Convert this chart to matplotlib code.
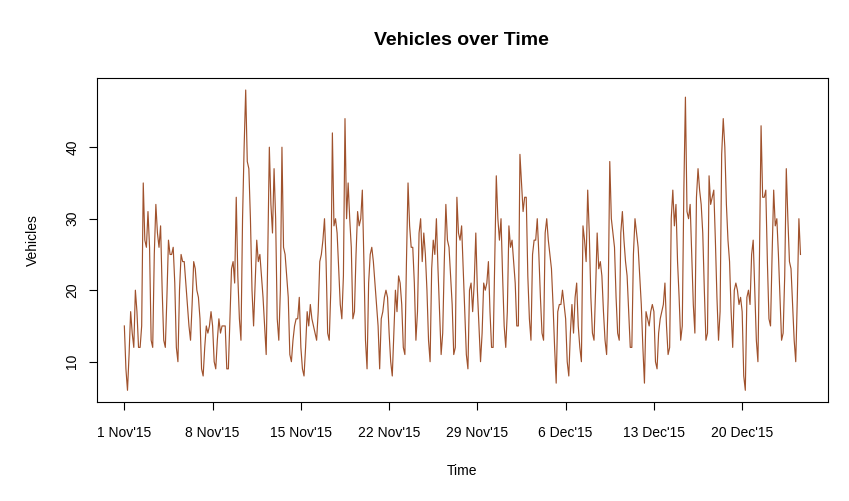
import matplotlib
matplotlib.use('Agg')
import matplotlib.pyplot as plt
import pandas as pd

plt.rcParams['font.family'] = ['Liberation Sans', 'DejaVu Sans']

# vehicle counts, one value every 3 hours, one row per day (00h ... 21h)
week1 = [15, 9, 6, 11, 17, 14, 12, 20,      # 1 Nov
         17, 12, 12, 15, 35, 27, 26, 31,
         26, 13, 12, 25, 32, 28, 26, 29,
         20, 13, 12, 19, 27, 25, 25, 26,
         21, 12, 10, 20, 25, 24, 24, 21,
         18, 15, 13, 18, 24, 23, 20, 19,
         16, 9, 8, 12, 15, 14, 15, 17]
week2 = [15, 10, 9, 13, 16, 14, 15, 15,     # 8 Nov
         15, 9, 9, 16, 23, 24, 21, 33,
         22, 16, 13, 30, 40, 48, 38, 37,
         30, 20, 15, 21, 27, 24, 25, 22,
         19, 15, 11, 25, 40, 32, 28, 37,
         30, 16, 13, 20, 40, 26, 25, 22,
         19, 11, 10, 13, 15, 16, 16, 19]
week3 = [12, 9, 8, 12, 17, 15, 18, 16,      # 15 Nov
         15, 14, 13, 17, 24, 25, 27, 30,
         24, 14, 13, 20, 42, 29, 30, 28,
         23, 18, 16, 22, 44, 30, 35, 30,
         26, 16, 17, 25, 31, 29, 30, 34,
         24, 13, 9, 21, 25, 26, 24, 21,
         18, 15, 9, 16, 17, 19, 20, 19]
week4 = [14, 10, 8, 14, 20, 17, 22, 21,     # 22 Nov
         18, 12, 11, 24, 35, 29, 26, 26,
         21, 13, 17, 28, 30, 24, 28, 25,
         20, 13, 10, 23, 27, 25, 30, 23,
         17, 11, 14, 24, 32, 27, 26, 22,
         18, 11, 12, 33, 28, 27, 29, 23,
         17, 11, 9, 20, 21, 17, 21, 28]
week5 = [20, 15, 10, 14, 21, 20, 21, 24,    # 29 Nov
         17, 12, 12, 24, 36, 30, 27, 30,
         22, 15, 12, 17, 29, 26, 27, 24,
         21, 15, 15, 39, 35, 31, 33, 33,
         22, 16, 13, 25, 27, 27, 30, 25,
         19, 14, 13, 28, 30, 27, 25, 23,
         18, 12, 7, 17, 18, 18, 20, 18]
week6 = [16, 10, 8, 14, 18, 14, 19, 21,     # 6 Dec
         15, 12, 10, 29, 27, 24, 34, 28,
         19, 14, 13, 20, 28, 23, 24, 22,
         17, 13, 11, 19, 38, 30, 28, 26,
         19, 14, 13, 28, 31, 27, 24, 22,
         17, 12, 12, 25, 30, 28, 26, 22,
         18, 12, 7, 17, 16, 15, 17, 18]
week7 = [17, 10, 9, 14, 16, 17, 18, 21,     # 13 Dec
         15, 11, 12, 30, 34, 29, 32, 24,
         19, 13, 15, 34, 47, 31, 30, 32,
         25, 18, 14, 33, 37, 34, 32, 28,
         20, 13, 14, 36, 32, 33, 34, 27,
         19, 13, 17, 39, 44, 40, 32, 27,
         24, 17, 12, 20, 21, 20, 18, 19]
week8 = [17, 8, 6, 19, 20, 18, 25, 27,      # 20 Dec
         20, 13, 10, 25, 43, 33, 33, 34,
         24, 16, 15, 25, 34, 29, 30, 25,
         19, 13, 14, 22, 37, 30, 24, 23,
         18, 13, 10, 19, 30, 25]

tick_dates = ['2015-11-01', '2015-11-08', '2015-11-15', '2015-11-22',
              '2015-11-29', '2015-12-06', '2015-12-13', '2015-12-20']
tick_labels = ["1 Nov'15", "8 Nov'15", "15 Nov'15", "22 Nov'15",
               "29 Nov'15", "6 Dec'15", "13 Dec'15", "20 Dec'15"]
y_ticks = [10, 20, 30, 40]

vehicles = week1 + week2 + week3 + week4 + week5 + week6 + week7 + week8
times = pd.date_range('2015-11-01 00:00', periods=len(vehicles), freq='3h')

fig = plt.figure(figsize=(8.49, 5.01), dpi=100)
ax = fig.add_axes([0.1146, 0.197, 0.8601, 0.6473])
ax.plot(times, vehicles, color='sienna', lw=0.85)
ax.margins(x=0.04, y=0.04)

ax.set_xticks(pd.to_datetime(tick_dates))
ax.set_xticklabels(tick_labels)
ax.set_yticks(y_ticks)
ax.tick_params(direction='out', length=6, width=0.8, labelsize=10, colors='black')
ax.tick_params(axis='x', pad=11)
ax.tick_params(axis='y', pad=7)
for lab in ax.get_yticklabels():
    lab.set_rotation(90)
    lab.set_va('center')
for sp in ax.spines.values():
    sp.set_linewidth(0.8)

fig.text(0.544, 0.92, 'Vehicles over Time', ha='center', va='center',
         fontsize=14, fontweight='bold')
fig.text(0.544, 0.06, 'Time', ha='center', va='center', fontsize=10)
fig.text(0.039, 0.521, 'Vehicles', ha='center', va='center', fontsize=10,
         rotation=90)

fig.savefig('out.png', dpi=100)
